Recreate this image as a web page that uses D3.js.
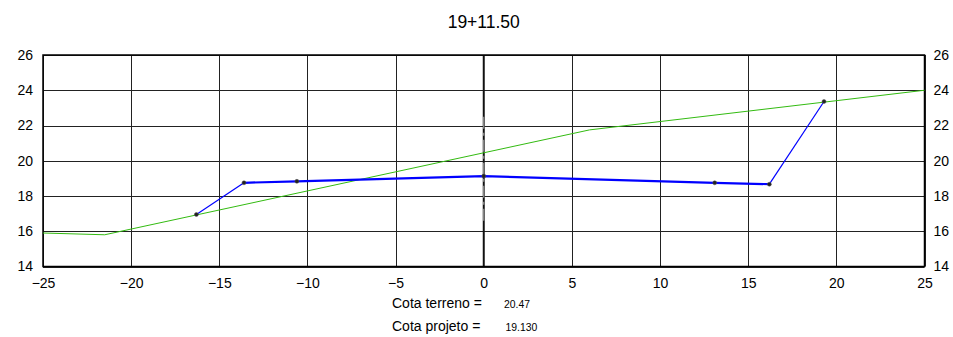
<!DOCTYPE html>
<html>
<head>
<meta charset="utf-8">
<script src="https://cdn.jsdelivr.net/npm/d3@7"></script>
<style>
  body { margin: 0; background: #fff; }
  text { font-family: "Liberation Sans", Arial, sans-serif; }
</style>
</head>
<body>
<div id="contents"></div>
<script>
// section data
var title       = '19+11.50';
var xTicks      = [-25, -20, -15, -10, -5, 0, 5, 10, 15, 20, 25];
var yTicks      = [14, 16, 18, 20, 22, 24, 26];
var terrenoX    = [-25, -21.5, 6, 25];
var terrenoY    = [15.9, 15.8, 21.75, 24.0];
var projetoX    = [-16.3, -13.6, -10.6, 0, 13.1, 16.2, 19.3];
var projetoY    = [16.95, 18.75, 18.83, 19.13, 18.75, 18.67, 23.36];
var cotaLabels  = ['Cota terreno =', 'Cota projeto ='];
var cotaValues  = ['20.47', '19.130'];

window.onload = function(){
    'use strict';
    var width  = 953;
    var height = 337;
    var left = 43, right = 924.5, top = 55, bottom = 266.5;

    var svg = d3.select('#contents').append('svg')
        .attr('width', width)
        .attr('height', height);

    var x = d3.scaleLinear().domain([-25, 25]).range([left, right]);
    var y = d3.scaleLinear().domain([14, 26]).range([bottom, top]);

    // grid
    var grid = svg.append('g');
    grid.selectAll('.vgrid')
        .data(xTicks.filter(function(d){ return d !== 0; }))
        .enter().append('line')
        .attr('x1', function(d){ return Math.round(x(d)) + 0.5; })
        .attr('x2', function(d){ return Math.round(x(d)) + 0.5; })
        .attr('y1', top).attr('y2', bottom)
        .attr('stroke', '#222').attr('stroke-width', 1);
    grid.selectAll('.hgrid')
        .data(yTicks)
        .enter().append('line')
        .attr('y1', function(d){ return Math.round(y(d)) + 0.5; })
        .attr('y2', function(d){ return Math.round(y(d)) + 0.5; })
        .attr('x1', left).attr('x2', right)
        .attr('stroke', '#222').attr('stroke-width', 1);

    // center line
    grid.append('line')
        .attr('x1', x(0)).attr('x2', x(0))
        .attr('y1', top).attr('y2', bottom)
        .attr('stroke', '#111').attr('stroke-width', 2);
    grid.append('line')
        .attr('x1', x(0)).attr('x2', x(0))
        .attr('y1', y(22.5)).attr('y2', y(16.5))
        .attr('stroke', '#999').attr('stroke-width', 1.2)
        .attr('stroke-dasharray', '12,4,3,4');

    // frame
    svg.append('rect')
        .attr('x', left).attr('y', top)
        .attr('width', right - left).attr('height', bottom - top)
        .attr('fill', 'none').attr('stroke', '#000').attr('stroke-width', 1.5);

    // axes (labels only)
    var bottomAxis = d3.axisBottom(x).tickValues(xTicks).tickSize(0).tickPadding(12);
    var leftAxis   = d3.axisLeft(y).tickValues(yTicks).tickSize(0).tickPadding(10);
    var rightAxis  = d3.axisRight(y).tickValues(yTicks).tickSize(0).tickPadding(9);

    [
        svg.append('g').attr('transform', 'translate(0,' + bottom + ')').call(bottomAxis),
        svg.append('g').attr('transform', 'translate(' + left + ',0)').call(leftAxis),
        svg.append('g').attr('transform', 'translate(' + right + ',0)').call(rightAxis)
    ].forEach(function(g){
        g.select('.domain').remove();
        g.attr('font-size', 14).attr('font-family', '"Liberation Sans", Arial, sans-serif');
        g.selectAll('text').attr('fill', '#000');
    });

    // terrain
    var terreno = terrenoX.map(function(d, i){ return [d, terrenoY[i]]; });
    var line = d3.line()
        .x(function(d){ return x(d[0]); })
        .y(function(d){ return y(d[1]); });
    svg.append('path')
        .datum(terreno)
        .attr('d', line)
        .attr('fill', 'none')
        .attr('stroke', '#33bb11')
        .attr('stroke-width', 1);

    // project section
    var projeto = projetoX.map(function(d, i){ return [d, projetoY[i]]; });
    var last = projeto.length - 1;
    svg.append('path')
        .datum(projeto.slice(0, 2))
        .attr('d', line)
        .attr('fill', 'none').attr('stroke', '#0000ff').attr('stroke-width', 1.2);
    svg.append('path')
        .datum(projeto.slice(1, last))
        .attr('d', line)
        .attr('fill', 'none').attr('stroke', '#0000ff').attr('stroke-width', 2.2);
    svg.append('path')
        .datum(projeto.slice(last - 1))
        .attr('d', line)
        .attr('fill', 'none').attr('stroke', '#0000ff').attr('stroke-width', 1.2);

    svg.append('g')
        .selectAll('circle')
        .data(projeto)
        .enter().append('circle')
        .attr('cx', function(d){ return x(d[0]); })
        .attr('cy', function(d){ return y(d[1]); })
        .attr('r', 2)
        .attr('fill', '#222')
        .attr('stroke', '#555')
        .attr('stroke-width', 0.5);

    // title
    svg.append('text')
        .attr('x', x(0)).attr('y', 27.5)
        .attr('text-anchor', 'middle')
        .attr('font-size', 17.5)
        .text(title);

    // cota info
    var info = svg.append('g');
    info.selectAll('.lbl')
        .data(cotaLabels)
        .enter().append('text')
        .attr('x', 392)
        .attr('y', function(d, i){ return 307.5 + i * 23.5; })
        .attr('font-size', 14)
        .text(function(d){ return d; });
    info.selectAll('.val')
        .data(cotaValues)
        .enter().append('text')
        .attr('x', function(d, i){ return 504 + i * 1.5; })
        .attr('y', function(d, i){ return 307.5 + i * 23.5; })
        .attr('font-size', 10.4)
        .text(function(d){ return d; });
};
</script>
</body>
</html>
